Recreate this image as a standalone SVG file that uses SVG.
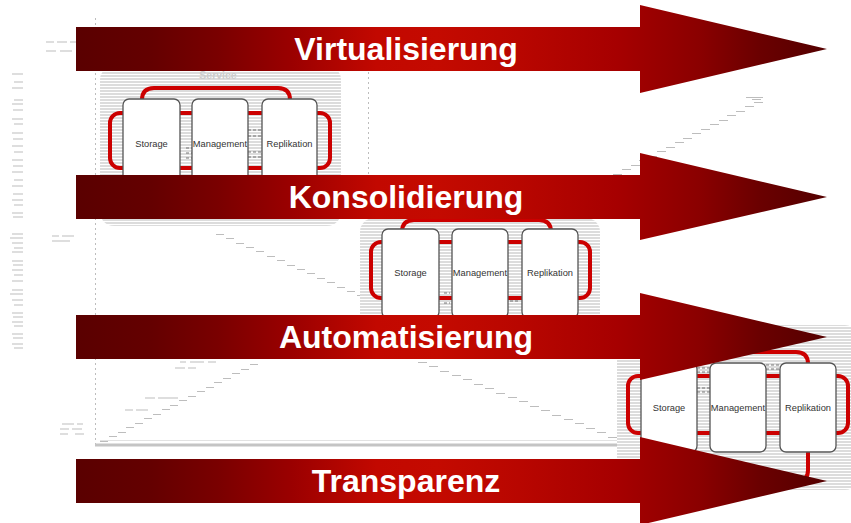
<svg xmlns="http://www.w3.org/2000/svg" width="851" height="523" viewBox="0 0 851 523">
<defs>
<style>
.bg{fill:url(#stripes)}
.loop{fill:none;stroke:#cc0000;stroke-width:4}
.box{fill:#ffffff;stroke:#555555;stroke-width:1.3}
.lbl{font-family:"Liberation Sans",Arial,sans-serif;font-size:9.3px;fill:#333333;text-anchor:middle}
.big{font-family:"Liberation Sans",Arial,sans-serif;font-size:32px;font-weight:bold;fill:#ffffff;text-anchor:middle}
.arrow{fill:url(#redgrad)}
.dash{fill:none;stroke:#555555;stroke-width:0.8;stroke-dasharray:3 2}
.faint{fill:none;stroke:#bdbdbd;stroke-width:1}
</style>
<pattern id="stripes" patternUnits="userSpaceOnUse" width="6" height="3">
<rect width="6" height="3" fill="#ffffff"/>
<rect width="6" height="2" fill="#dcdcdc"/>
</pattern>
<linearGradient id="redgrad" gradientUnits="userSpaceOnUse" x1="76" y1="0" x2="828" y2="0">
<stop offset="0" stop-color="#5a0000"/>
<stop offset="0.1" stop-color="#640000"/>
<stop offset="0.19" stop-color="#7a0000"/>
<stop offset="0.285" stop-color="#9a0000"/>
<stop offset="0.4" stop-color="#c20800"/>
<stop offset="0.48" stop-color="#c40a00"/>
<stop offset="0.59" stop-color="#b80600"/>
<stop offset="0.72" stop-color="#a60000"/>
<stop offset="0.83" stop-color="#8a0000"/>
<stop offset="0.91" stop-color="#6a0000"/>
<stop offset="1" stop-color="#540000"/>
</linearGradient>
</defs>

<rect width="851" height="523" fill="#ffffff"/>

<g id="connectors">
<line class="faint" x1="95.5" y1="18" x2="95.5" y2="446" stroke-dasharray="2 3"/>
<line class="faint" x1="368.5" y1="72" x2="368.5" y2="318" stroke-dasharray="2 3"/>
<line x1="95" y1="445" x2="640" y2="445" stroke="#c4c4c4" stroke-width="3"/>
<line x1="100" y1="440.5" x2="640" y2="440.5" stroke="#e2e2e2" stroke-width="1"/>
<path class="faint" d="M216 234.5h8M226 238.5h8M236 243.5h8M246 247.5h8M256 251.5h8M267 256.5h8M277 260.5h8M287 265.5h8M297 269.5h8M307 273.5h8M317 278.5h8M327 282.5h8M337 287.5h8M347 291.5h8M357 295.5h8M367 300.5h8"/>
<path class="faint" d="M100 441.5h8M109 436.5h8M118 432.5h8M126 427.5h8M135 423.5h8M144 418.5h8M153 414.5h8M162 409.5h8M170 405.5h8M179 400.5h8M188 396.5h8M197 391.5h8M206 387.5h8M214 382.5h8M223 378.5h8M232 373.5h8M241 369.5h8M250 364.5h8"/>
<path class="faint" d="M418 362.5h9M429 366.5h9M440 371.5h9M452 375.5h9M463 379.5h9M474 384.5h9M485 388.5h9M496 393.5h9M508 397.5h9M519 401.5h9M530 406.5h9M541 410.5h9M552 415.5h9M564 419.5h9M575 423.5h9M586 428.5h9M597 432.5h9M608 437.5h9"/>
<path class="faint" d="M613 174.5h9M622 169.5h9M631 165.5h9M639 160.5h9M648 156.5h9M657 151.5h9M666 147.5h9M675 142.5h9M683 138.5h9M692 133.5h9M701 129.5h9M710 124.5h9M719 120.5h9M727 115.5h9M736 111.5h9M745 106.5h9M754 102.5h9M746 97.5h17M752 99.5h9"/>
<path class="faint" d="M12 74h11M14 82h9M12 88h11M14 100h9M12 104h11M13 110h10M12 119h11M14 124h9M12 133h11M13 139h10M12 146h11M14 152h9M12 160h11M13 166h10M12 172h11M14 180h9M12 186h11M13 194h10M12 200h11M14 205h9M12 213h11M13 217h10M12 234h11M10 238h13M12 243h11M14 248h9M12 252h11M12 261h11M13 265h10M12 270h11M14 275h9M12 281h11M12 290h11M10 294h13M12 300h11M14 305h9M12 313h11M13 317h10M12 322h11M14 326h9M12 334h11M13 338h10M12 344h11M14 348h9"/>
<path class="faint" d="M46 42h8M57 42h10M70 42h6M46 51h10M60 51h12M52 236h7M62 236h12M52 241h18M62 424h12M77 424h6M60 429h9M72 429h10M60 434h8M75 434h9M180 362h6M190 362h14M208 362h8M175 368h10M188 368h8M145 398h10M158 398h20M125 410h8M136 410h12"/>
</g>

<g id="group-service">
<rect class="bg" x="100" y="66" width="241" height="160" rx="14"/>
<text x="218" y="79" font-family="'Liberation Sans',Arial,sans-serif" font-size="10.5" font-weight="bold" fill="#cccccc" text-anchor="middle">Service</text>
<path class="loop" d="M142 130V100Q142 88 154 88H278Q290 88 290 100V130"/>
<path class="loop" d="M142 180V200Q142 212 154 212H278Q290 212 290 200V180"/>
<rect class="loop" x="110" y="113" width="220" height="55" rx="10"/>
<path class="dash" d="M248 130h14M248 136h14M248 152h14M248 157h14M186 148h6M186 153h6M186 158h6"/>
<g id="storage-1"><rect class="box" x="123" y="99" width="57" height="89" rx="6"/><text class="lbl" x="151.5" y="147">Storage</text></g>
<g id="management-1"><rect class="box" x="192" y="99" width="56" height="89" rx="6"/><text class="lbl" x="220" y="147">Management</text></g>
<g id="replikation-1"><rect class="box" x="262" y="99" width="55" height="89" rx="6"/><text class="lbl" x="289.5" y="147">Replikation</text></g>
</g>

<g id="group-2">
<rect class="bg" x="360" y="218" width="240" height="138" rx="14"/>
<path class="loop" d="M402 260V232Q402 220 414 220H539Q551 220 551 232V260"/>
<path class="loop" d="M402 320V334Q402 346 414 346H539Q551 346 551 334V320"/>
<rect class="loop" x="371" y="242" width="219" height="56" rx="10"/>
<path class="dash" d="M444 293h6M444 303h6M510 301h8"/>
<g id="storage-2"><rect class="box" x="382" y="229" width="57" height="89" rx="6"/><text class="lbl" x="410.5" y="276">Storage</text></g>
<g id="management-2"><rect class="box" x="452" y="229" width="56" height="89" rx="6"/><text class="lbl" x="480" y="276">Management</text></g>
<g id="replikation-2"><rect class="box" x="522" y="229" width="56" height="89" rx="6"/><text class="lbl" x="550" y="276">Replikation</text></g>
</g>

<g id="group-3">
<rect class="bg" x="617" y="325" width="240" height="165" rx="12"/>
<path class="loop" d="M660 390V364Q660 352 672 352H796Q808 352 808 364V390"/>
<path class="loop" d="M660 440V470Q660 482 672 482H796Q808 482 808 470V440"/>
<rect class="loop" x="628" y="376" width="220" height="57" rx="10"/>
<path class="dash" d="M697 368h13M697 372h13M697 388h13M697 392h13M766 365h14M766 369h14"/>
<g id="storage-3"><rect class="box" x="641" y="363" width="56" height="89" rx="6"/><text class="lbl" x="669" y="411">Storage</text></g>
<g id="management-3"><rect class="box" x="710" y="363" width="56" height="89" rx="6"/><text class="lbl" x="738" y="411">Management</text></g>
<g id="replikation-3"><rect class="box" x="780" y="363" width="56" height="89" rx="6"/><text class="lbl" x="808" y="411">Replikation</text></g>
</g>

<g id="arrow-virtualisierung">
<path class="arrow" d="M76 27H640V5L827 49L640 93V71H76Z"/>
<text class="big" x="406" y="60">Virtualisierung</text>
</g>
<g id="arrow-konsolidierung">
<path class="arrow" d="M76 175H640V153L827 197L640 240V219H76Z"/>
<text class="big" x="406" y="208">Konsolidierung</text>
</g>
<g id="arrow-automatisierung">
<path class="arrow" d="M76 315H640V293L827 337L640 380V359H76Z"/>
<text class="big" x="406" y="348">Automatisierung</text>
</g>
<g id="arrow-transparenz">
<path class="arrow" d="M76 459H640V437L827 481L640 525V503H76Z"/>
<text class="big" x="406" y="492">Transparenz</text>
</g>
</svg>
